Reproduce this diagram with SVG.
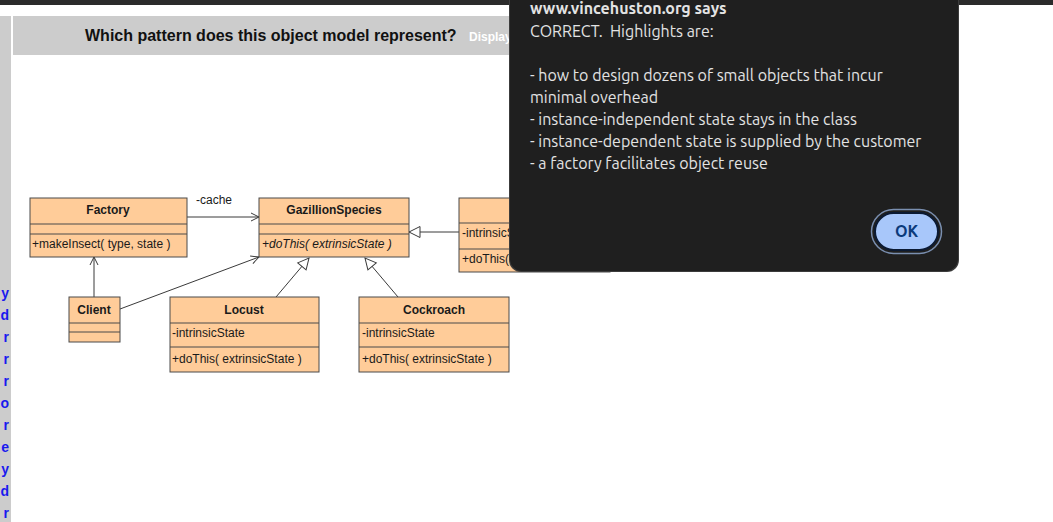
<svg xmlns="http://www.w3.org/2000/svg" width="1053" height="522" viewBox="0 0 1053 522">
<style>
.box{fill:#ffcc99;stroke:#4a4a4a;stroke-width:1}
.sep{stroke:#4a4a4a;stroke-width:1}
.t{font-family:"Liberation Sans",Arial,sans-serif;font-size:12px;fill:#1a1a1a}
.tb{font-family:"Liberation Sans",Arial,sans-serif;font-size:12px;font-weight:bold;fill:#1a1a1a;text-anchor:middle}
.ln{stroke:#3a3a3a;stroke-width:1;fill:none}
.blue{font-family:"Liberation Sans",Arial,sans-serif;font-size:14px;font-weight:bold;fill:#1a1aee;text-anchor:end}
.dlg{font-family:"Ubuntu","Noto Sans","Open Sans",sans-serif;font-size:16px;fill:#e3e3e3}
</style>
<defs>
<marker id="open" markerWidth="10" markerHeight="10" refX="9" refY="5" orient="auto" markerUnits="userSpaceOnUse">
<path d="M1,1 L9,5 L1,9" fill="none" stroke="#3a3a3a" stroke-width="1"/>
</marker>
<marker id="tri" markerWidth="14" markerHeight="14" refX="12" refY="7" orient="auto" markerUnits="userSpaceOnUse">
<path d="M1,1.5 L12,7 L1,12.5 Z" fill="#ffffff" stroke="#3a3a3a" stroke-width="1"/>
</marker>
</defs>
<rect width="1053" height="522" fill="#ffffff"/>
<rect x="0" y="0" width="1053" height="5" fill="#2b2b2b"/>
<rect x="0" y="16" width="11" height="506" fill="#cccccc"/>
<rect x="13" y="16" width="510" height="39" fill="#cccccc"/>
<text x="85" y="41" font-family="Liberation Sans,Arial,sans-serif" font-size="16" font-weight="bold" fill="#111111">Which pattern does this object model represent?</text>
<text x="469" y="41" font-family="Liberation Sans,Arial,sans-serif" font-size="12" font-weight="bold" fill="#ffffff">Display</text>
<g id="sidebar-letters">
<text class="blue" x="9" y="298">y</text>
<text class="blue" x="9" y="320">d</text>
<text class="blue" x="9" y="342">r</text>
<text class="blue" x="9" y="364">r</text>
<text class="blue" x="9" y="386">r</text>
<text class="blue" x="9" y="408">o</text>
<text class="blue" x="9" y="430">r</text>
<text class="blue" x="9" y="452">e</text>
<text class="blue" x="9" y="474">y</text>
<text class="blue" x="9" y="496">d</text>
<text class="blue" x="9" y="518">r</text>
</g>
<g id="connectors">
<line class="ln" x1="187" y1="217" x2="259" y2="217" marker-end="url(#open)"/>
<text x="196" y="204" class="t">-cache</text>
<line class="ln" x1="94" y1="297" x2="94" y2="257" marker-end="url(#open)"/>
<line class="ln" x1="120" y1="309" x2="259" y2="257" marker-end="url(#open)"/>
<line class="ln" x1="276" y1="297" x2="309" y2="258" marker-end="url(#tri)"/>
<line class="ln" x1="398" y1="297" x2="365" y2="258" marker-end="url(#tri)"/>
<line class="ln" x1="459" y1="232" x2="409" y2="232" marker-end="url(#tri)"/>
</g>
<g id="factory">
<rect class="box" x="30" y="198" width="157" height="59"/>
<line class="sep" x1="30" y1="224" x2="187" y2="224"/>
<line class="sep" x1="30" y1="234" x2="187" y2="234"/>
<text class="tb" x="108" y="214">Factory</text>
<text class="t" x="32" y="248">+makeInsect( type, state )</text>
</g>
<g id="gazillion">
<rect class="box" x="259" y="198" width="150" height="59"/>
<line class="sep" x1="259" y1="224" x2="409" y2="224"/>
<line class="sep" x1="259" y1="234" x2="409" y2="234"/>
<text class="tb" x="334" y="214">GazillionSpecies</text>
<text class="t" x="262" y="248" font-style="italic">+doThis( extrinsicState )</text>
</g>
<g id="hidden-node">
<rect class="box" x="459" y="198" width="151" height="74"/>
<line class="sep" x1="459" y1="223" x2="610" y2="223"/>
<line class="sep" x1="459" y1="249" x2="610" y2="249"/>
<text class="t" x="462" y="237">-intrinsicState</text>
<text class="t" x="462" y="263">+doThis( extrinsicState )</text>
</g>
<g id="client">
<rect class="box" x="69" y="297" width="51" height="45"/>
<line class="sep" x1="69" y1="323" x2="120" y2="323"/>
<line class="sep" x1="69" y1="332" x2="120" y2="332"/>
<text class="tb" x="94" y="314">Client</text>
</g>
<g id="locust">
<rect class="box" x="170" y="297" width="149" height="75"/>
<line class="sep" x1="170" y1="323" x2="319" y2="323"/>
<line class="sep" x1="170" y1="347" x2="319" y2="347"/>
<text class="tb" x="244" y="314">Locust</text>
<text class="t" x="172" y="337">-intrinsicState</text>
<text class="t" x="172" y="363">+doThis( extrinsicState )</text>
</g>
<g id="cockroach">
<rect class="box" x="359" y="297" width="150" height="75"/>
<line class="sep" x1="359" y1="323" x2="509" y2="323"/>
<line class="sep" x1="359" y1="347" x2="509" y2="347"/>
<text class="tb" x="434" y="314">Cockroach</text>
<text class="t" x="362" y="337">-intrinsicState</text>
<text class="t" x="362" y="363">+doThis( extrinsicState )</text>
</g>
<g id="dialog">
<rect x="509" y="-20" width="450" height="292" rx="12" fill="#3c3c3c"/>
<rect x="510" y="-20" width="448" height="291" rx="12" fill="#1f1f1f"/>
<text x="530" y="14" font-family="Ubuntu,'Noto Sans','Open Sans',sans-serif" font-size="16" font-weight="bold" fill="#e3e3e3">www.vincehuston.org says</text>
<text class="dlg" x="530" y="37" xml:space="preserve">CORRECT.  Highlights are:</text>
<text class="dlg" x="530" y="81">- how to design dozens of small objects that incur</text>
<text class="dlg" x="530" y="103">minimal overhead</text>
<text class="dlg" x="530" y="125">- instance-independent state stays in the class</text>
<text class="dlg" x="530" y="147">- instance-dependent state is supplied by the customer</text>
<text class="dlg" x="530" y="169">- a factory facilitates object reuse</text>
<rect x="871.5" y="209.5" width="70" height="44" rx="22" fill="none" stroke="#7a8fb0" stroke-width="1.5"/>
<rect x="875" y="213" width="63" height="37" rx="18.5" fill="#a8c7fa" stroke="#0b1a33" stroke-width="2"/>
<text x="906.5" y="237" text-anchor="middle" font-family="Ubuntu,'Noto Sans','Open Sans',sans-serif" font-size="16" font-weight="bold" fill="#0b3a7a">OK</text>
</g>
</svg>
